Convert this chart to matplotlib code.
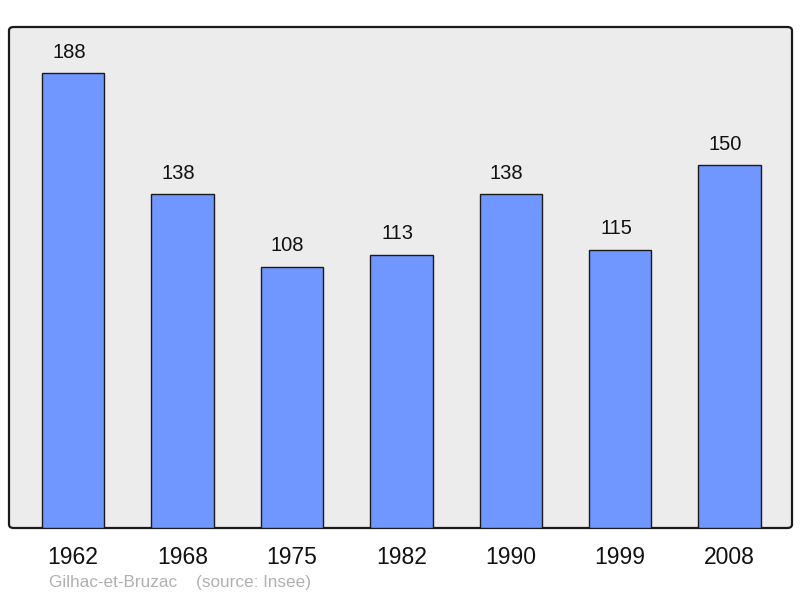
import matplotlib
matplotlib.use("Agg")
import matplotlib.pyplot as plt
from matplotlib.patches import FancyBboxPatch

years = ["1962", "1968", "1975", "1982", "1990", "1999", "2008"]
population = [188, 138, 108, 113, 138, 115, 150]

plt.rcParams['font.family'] = ['Liberation Sans', 'DejaVu Sans']

W, H = 800, 598
fig = plt.figure(figsize=(W / 100, H / 100), dpi=100)

# rounded background frame
frame = FancyBboxPatch((9 / W, (H - 528) / H), 783 / W, 501 / H,
                       boxstyle="round,pad=0,rounding_size=0.006",
                       transform=fig.transFigure, facecolor='#ececec',
                       edgecolor='#1a1a1a', linewidth=1.6, zorder=-5)
fig.patches.append(frame)

ax = fig.add_axes([9 / W, (H - 528) / H, 783 / W, 501 / H], zorder=1)
ax.set_facecolor('none')
ax.patch.set_alpha(0)

x = list(range(len(years)))
ax.bar(x, population, width=0.57, color='#7096ff', edgecolor='#1a1a1a',
       linewidth=1.0, zorder=2)

for xi, v in zip(x, population):
    ax.annotate(str(v), (xi, v), xytext=(-3, 15), textcoords='offset points',
                ha='center', va='center', fontsize=14.5, color='#111111')

ax.set_xlim(-0.585, 6.57)
ax.set_ylim(0, 207)
ax.set_xticks(x)
ax.set_xticklabels(years, fontsize=16.5, color='#111111')
ax.tick_params(axis='x', length=0, pad=13)
ax.set_yticks([])
for s in ax.spines.values():
    s.set_visible(False)

fig.text(49 / W, 1 - 583 / H, "Gilhac-et-Bruzac    (source: Insee)",
         fontsize=12.3, color='#b0b0b0', ha='left', va='center')

fig.savefig("out.png", dpi=100)
